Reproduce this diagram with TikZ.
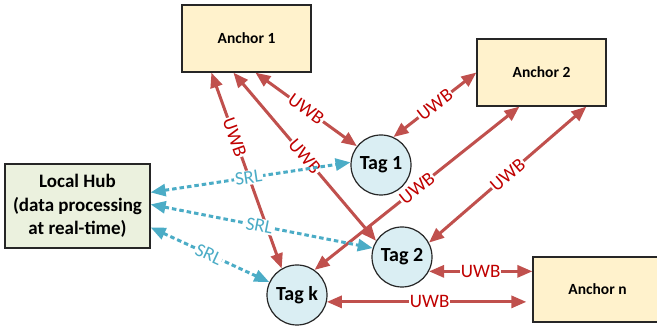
\documentclass[tikz,border=0pt]{standalone}
\usepackage{fontspec}
\setmainfont{Carlito}
\usetikzlibrary{arrows.meta}
\definecolor{uwbline}{HTML}{C0504D}
\definecolor{uwbtext}{HTML}{C00000}
\definecolor{srlcol}{HTML}{4BACC6}
\definecolor{anchorfill}{HTML}{FFF2CC}
\definecolor{hubfill}{HTML}{EBF1DE}
\definecolor{tagfill}{HTML}{DAEEF3}
\begin{document}
\begin{tikzpicture}[x=1pt,y=-1pt,
  anchorbox/.style={draw=black!85, line width=1.2pt, fill=anchorfill, minimum width=129pt, minimum height=67pt, inner sep=0pt, font=\fontsize{15.5}{18}\selectfont\bfseries},
  hubbox/.style={draw=black!85, line width=1.2pt, fill=hubfill, minimum width=145pt, minimum height=84pt, inner sep=0pt, align=center, font=\fontsize{19}{23.5}\selectfont\bfseries},
  tagnode/.style={circle, draw=black!85, line width=1.2pt, fill=tagfill, minimum size=60pt, inner sep=0pt, font=\fontsize{20}{22}\selectfont\bfseries},
  uwb/.style={draw=uwbline, line width=3pt, {Triangle[length=15pt,width=12pt]}-{Triangle[length=15pt,width=12pt]}},
  uwblbl/.style={sloped, fill=white, inner sep=1pt, text=uwbtext, font=\fontsize{19}{20}\selectfont},
  srlline/.style={draw=srlcol, line width=3pt, dash pattern=on 4.5pt off 3pt, {Triangle[length=15pt,width=12pt]}-{Triangle[length=15pt,width=12pt]}},
  srllbl/.style={sloped, fill=white, inner sep=1pt, text=srlcol, font=\fontsize{19}{20}\selectfont}
]
\useasboundingbox (0,0) rectangle (657,328);

% nodes
\node[anchorbox] (a1) at (246.5,38.5) {Anchor 1};
\node[anchorbox] (a2) at (541.5,72.5) {Anchor 2};
\node[anchorbox, minimum height=65pt] (an) at (597.5,289.5) {Anchor n};
\node[hubbox] (hub) at (77.5,206) {Local Hub\\(data processing\\at real-time)};
\node[tagnode] (t1) at (381,165) {Tag 1};
\node[tagnode] (t2) at (402,257) {Tag 2};
\node[tagnode] (tk) at (297,295) {Tag k};

% UWB links
\draw[uwb] ([xshift=30pt]a1.south west) -- node[uwblbl, pos=0.33] {UWB} (tk.120);
\draw[uwb] ([xshift=52pt]a1.south west) -- node[uwblbl, pos=0.5] {UWB} (t2.148);
\draw[uwb] ([xshift=74pt]a1.south west) -- node[uwblbl, pos=0.5] {UWB} (t1.142);
\draw[uwb] (a2.west) -- node[uwblbl, pos=0.5] {UWB} (t1.66);
\draw[uwb] ([xshift=43pt]a2.south west) -- node[uwblbl, pos=0.5] {UWB} (tk.55);
\draw[uwb] ([xshift=110pt]a2.south west) -- node[uwblbl, pos=0.5] {UWB} (t2.28);
\draw[uwb] (t2.-28) -- node[uwblbl, pos=0.5] {UWB} (t2.-28 -| an.west);
\draw[uwb, shorten >=6pt] (tk.-13) -- node[uwblbl, pos=0.5] {UWB} (tk.-13 -| an.west);

% SRL links
\draw[srlline] ([yshift=-29pt]hub.north east) -- node[srllbl, pos=0.49] {SRL} (t1.175);
\draw[srlline] ([yshift=-41pt]hub.north east) -- node[srllbl, pos=0.49] {SRL} (t2.163);
\draw[srlline] ([yshift=-64pt]hub.north east) -- node[srllbl, pos=0.49] {SRL} (tk.155);
\end{tikzpicture}
\end{document}
